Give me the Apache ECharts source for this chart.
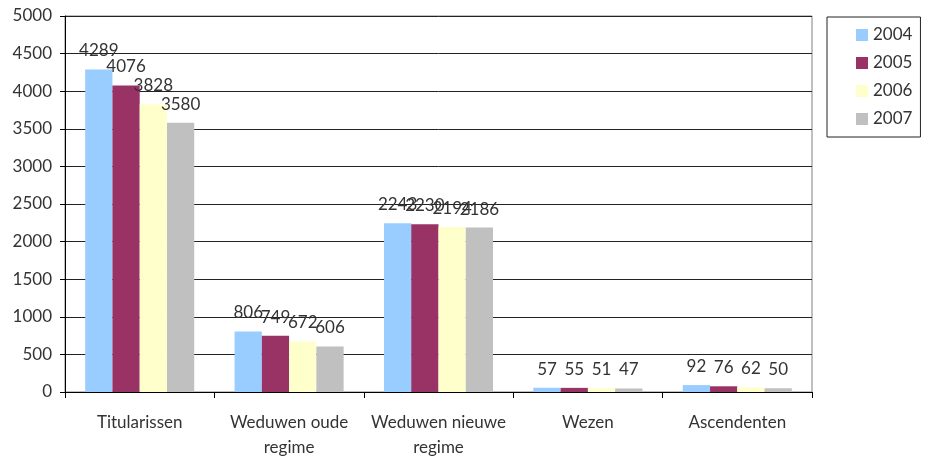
<!DOCTYPE html>
<html>
<head>
<meta charset="utf-8">
<script src="https://cdn.jsdelivr.net/npm/echarts@6/dist/echarts.min.js"></script>
<style>
  html, body { margin: 0; padding: 0; background: #fff; }
  #chart { width: 926px; height: 460px; }
</style>
</head>
<body>
<div id="chart"></div>
<script>
const categories = ['Titularissen', 'Weduwen oude\nregime', 'Weduwen nieuwe\nregime', 'Wezen', 'Ascendenten']
const years = ['2004', '2005', '2006', '2007']
const v2004 = [4289, 806, 2243, 57, 92]
const v2005 = [4076, 749, 2230, 55, 76]
const v2006 = [3828, 672, 2194, 51, 62]
const v2007 = [3580, 606, 2186, 47, 50]
const colors = ['#99CCFF', '#993366', '#FFFFCC', '#C0C0C0']

const font = 'Lato, "Open Sans", sans-serif'
const txt = '#333'

const seriesData = [v2004, v2005, v2006, v2007]

const chart = echarts.init(document.getElementById('chart'))
chart.setOption({
  animation: false,
  textStyle: { fontFamily: font },
  grid: {
    left: 65, right: 114, top: 16, bottom: 65,
    show: true, borderColor: '#808080', borderWidth: 1
  },
  legend: {
    orient: 'vertical',
    left: 827, top: 17,
    width: 91,
    padding: [9, 8, 9, 29],
    borderColor: '#222', borderWidth: 1,
    itemWidth: 12, itemHeight: 12, itemGap: 10,
    icon: 'rect',
    data: years,
    textStyle: { fontFamily: font, fontSize: 17, color: txt, lineHeight: 18 }
  },
  xAxis: {
    type: 'category',
    data: categories,
    axisLine: { lineStyle: { color: '#000', width: 1 } },
    axisTick: { show: true, length: 6, lineStyle: { color: '#000' } },
    axisLabel: { interval: 0, fontSize: 17, color: txt, margin: 18, lineHeight: 25 }
  },
  yAxis: {
    type: 'value',
    min: 0, max: 5000, interval: 500,
    axisLine: { show: true, lineStyle: { color: '#000' } },
    axisTick: { show: true, length: 5, lineStyle: { color: '#000' } },
    axisLabel: { fontSize: 17, color: txt, margin: 13, formatter: v => String(v) },
    splitLine: { lineStyle: { color: '#222', width: 1 } }
  },
  series: seriesData.map((d, i) => ({
    name: years[i],
    type: 'bar',
    data: d,
    barGap: '0%',
    barCategoryGap: '27%',
    itemStyle: { color: colors[i] },
    label: {
      show: true, position: 'top', distance: 10,
      fontSize: 17, color: txt, fontFamily: font
    }
  }))
})
</script>
</body>
</html>
